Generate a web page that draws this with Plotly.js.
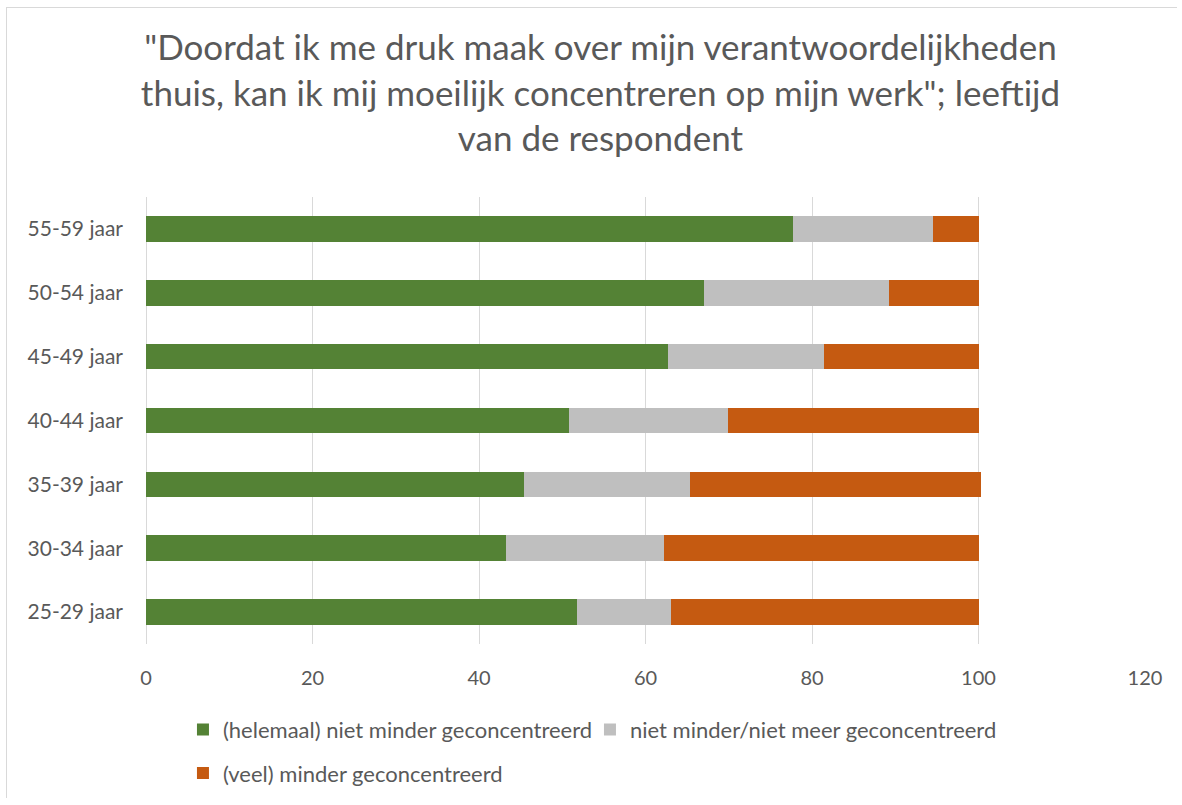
<!DOCTYPE html>
<html>
<head>
<meta charset="utf-8">
<script src="https://cdn.plot.ly/plotly-3.0.1.min.js"></script>
<style>
html,body{margin:0;padding:0;background:#fff;overflow:hidden;width:1182px;height:805px;}
#frame{position:absolute;left:6px;top:7px;width:1170px;height:790px;border-left:1.5px solid #d9d9d9;border-top:1.5px solid #d9d9d9;}
#chart{position:absolute;left:0;top:0;width:1182px;height:805px;}
</style>
</head>
<body>
<div id="frame"></div>
<div id="chart"></div>
<script>
const categories = ['25-29 jaar','30-34 jaar','35-39 jaar','40-44 jaar','45-49 jaar','50-54 jaar','55-59 jaar'];
const seriesNames = ['(helemaal) niet minder geconcentreerd','niet minder/niet meer geconcentreerd','(veel) minder geconcentreerd'];
const nietMinder = [51.8, 43.3, 45.4, 50.8, 62.7, 67.0, 77.7];
const neutraal   = [11.3, 18.9, 19.9, 19.1, 18.8, 22.3, 16.8];
const veelMinder = [36.9, 37.8, 35.0, 30.1, 18.5, 10.7, 5.5];
const xTicks = [0, 20, 40, 60, 80, 100, 120];
const colors = ['#548235', '#bfbfbf', '#c55a11'];

const font = 'Lato, "Open Sans", sans-serif';
const values = [nietMinder, neutraal, veelMinder];
const traces = values.map((v, i) => ({
  type: 'bar', orientation: 'h', name: seriesNames[i],
  y: categories, x: v, width: 0.4,
  marker: {color: colors[i]},
  legend: i < 2 ? 'legend' : 'legend2',
  hoverinfo: 'x+name'
}));

const layout = {
  width: 1182, height: 805,
  paper_bgcolor: 'rgba(0,0,0,0)', plot_bgcolor: 'rgba(0,0,0,0)',
  margin: {l: 146, r: 37, t: 197, b: 160},
  barmode: 'stack',
  bargap: 0.6,
  font: {family: font, color: '#595959', size: 18},
  title: {
    text: '"Doordat ik me druk maak over mijn verantwoordelijkheden<br>thuis, kan ik mij moeilijk concentreren op mijn werk"; leeftijd<br>van de respondent',
    font: {family: font, size: 35, color: '#595959'},
    x: 0.508, xanchor: 'center', y: 0.925, yanchor: 'top'
  },
  xaxis: {
    range: [0, 120], tickvals: xTicks, ticktext: xTicks.map(String),
    showgrid: true, gridcolor: '#d9d9d9', gridwidth: 1,
    zeroline: true, zerolinecolor: '#d9d9d9', zerolinewidth: 1,
    showline: false, ticks: '', ticklen: 0, ticklabelstandoff: 20,
    tickfont: {family: font, size: 20, color: '#595959'}
  },
  yaxis: {
    type: 'category', categoryorder: 'array', categoryarray: categories,
    showgrid: false, showline: false, ticks: '', ticklen: 0, ticklabelstandoff: 22,
    tickfont: {family: font, size: 21, color: '#595959'}
  },
  showlegend: true,
  legend: {
    orientation: 'h', x: 0.037, xanchor: 'left', y: -0.189, yanchor: 'middle',
    entrywidth: 362, entrywidthmode: 'pixels',
    font: {family: font, size: 22, color: '#595959'},
    bgcolor: 'rgba(0,0,0,0)', traceorder: 'normal'
  },
  legend2: {
    orientation: 'h', x: 0.037, xanchor: 'left', y: -0.286, yanchor: 'middle',
    font: {family: font, size: 22, color: '#595959'},
    bgcolor: 'rgba(0,0,0,0)'
  }
};

Plotly.newPlot('chart', traces, layout, {displayModeBar: false, responsive: false});
</script>
</body>
</html>
